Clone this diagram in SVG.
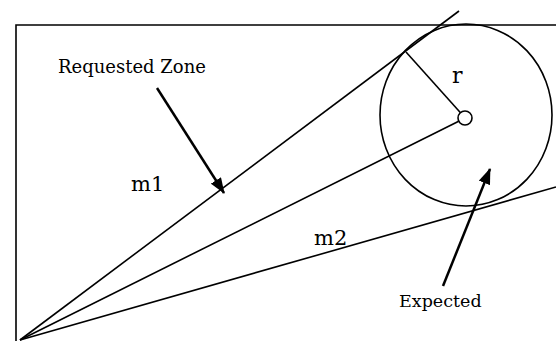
<svg xmlns="http://www.w3.org/2000/svg" width="556" height="341" viewBox="0 0 556 341">
<defs>
<style>
.ln{fill:none;stroke:#000;stroke-width:1.6}
.ar{fill:none;stroke:#000;stroke-width:2.5}
.t{font-family:"DejaVu Serif","Liberation Serif",serif;fill:#000}
</style>
<marker id="ah" markerWidth="16" markerHeight="12" refX="15" refY="6" orient="auto" markerUnits="userSpaceOnUse">
<path d="M0,0 L16,6 L0,12 Z" fill="#000"/>
</marker>
</defs>
<rect width="556" height="341" fill="#fff"/>
<g id="frame"><path class="ln" d="M16,341 V25 H556"/></g>
<g id="zone"><ellipse class="ln" cx="466" cy="115" rx="86" ry="91"/></g>
<g id="center"><circle class="ln" cx="465" cy="118" r="7" fill="#fff"/></g>
<g id="connectors">
<line class="ln" x1="20" y1="340" x2="459" y2="11"/>
<line class="ln" x1="20" y1="340" x2="458.7" y2="121.2"/>
<line class="ln" x1="20" y1="340" x2="556" y2="187"/>
<line class="ln" x1="406" y1="52" x2="460.5" y2="112.8"/>
<line class="ar" x1="157" y1="88" x2="224" y2="193" marker-end="url(#ah)"/>
<line class="ar" x1="443" y1="286" x2="490" y2="169" marker-end="url(#ah)"/>
</g>
<g id="labels">
<text class="t" x="58" y="73" font-size="18">Requested Zone</text>
<text class="t" x="131" y="191" font-size="21">m1</text>
<text class="t" x="314" y="245" font-size="21">m2</text>
<text class="t" x="452" y="83" font-size="22">r</text>
<text class="t" x="399" y="307" font-size="17.5">Expected</text>
</g>
</svg>
